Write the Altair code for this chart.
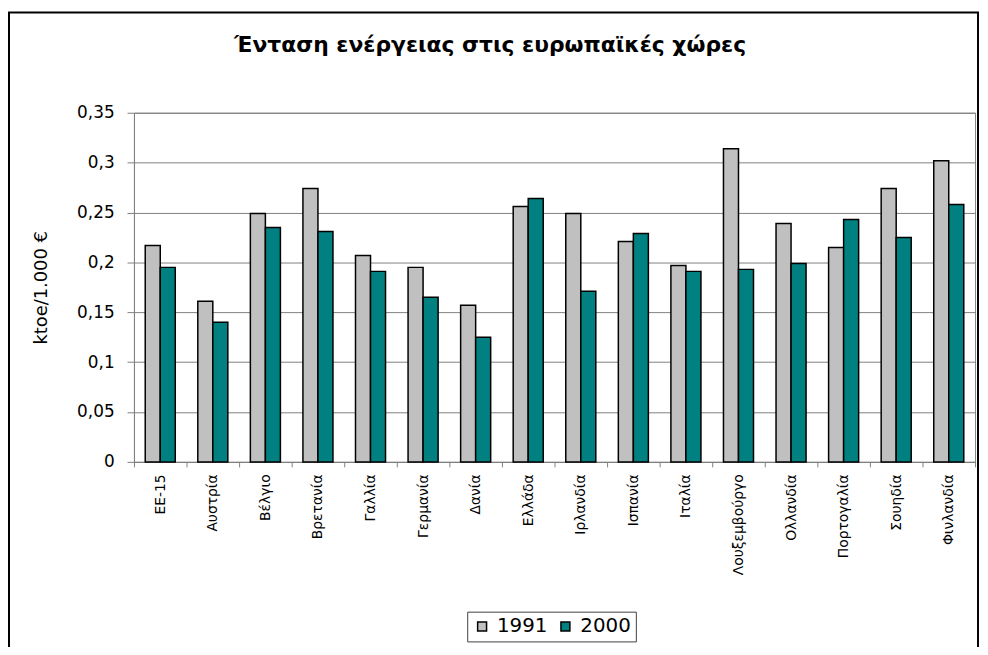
import altair as alt
import pandas as pd

countries = ["ΕΕ-15", "Αυστρία", "Βέλγιο", "Βρετανία", "Γαλλία", "Γερμανία", "Δανία",
             "Ελλάδα", "Ιρλανδία", "Ισπανία", "Ιταλία", "Λουξεμβούργο", "Ολλανδία",
             "Πορτογαλία", "Σουηδία", "Φινλανδία"]
v1991 = [0.217, 0.161, 0.249, 0.274, 0.207, 0.195, 0.157, 0.256, 0.249, 0.221,
         0.197, 0.314, 0.239, 0.215, 0.274, 0.302]
v2000 = [0.195, 0.140, 0.235, 0.231, 0.191, 0.165, 0.125, 0.264, 0.171, 0.229,
         0.191, 0.193, 0.199, 0.243, 0.225, 0.258]
years = ["1991", "2000"]
colors = ["#C0C0C0", "#008080"]
y_ticks = [0, 0.05, 0.1, 0.15, 0.2, 0.25, 0.3, 0.35]

rows = []
for c, a, b in zip(countries, v1991, v2000):
    rows.append({"country": c, "year": years[0], "value": a})
    rows.append({"country": c, "year": years[1], "value": b})
df = pd.DataFrame(rows)

FONT = "DejaVu Sans"

frame = alt.Chart(alt.Data(values=[{"k": 1}])).mark_rect(
    fillOpacity=0, stroke="black", strokeWidth=2
).encode(
    x=alt.value(-126), x2=alt.value(851), y=alt.value(-101), y2=alt.value(600)
)

bars = alt.Chart(df).mark_bar(stroke="black", strokeWidth=1.5).encode(
    x=alt.X("country:N", sort=countries,
            scale=alt.Scale(paddingInner=0, paddingOuter=0),
            axis=alt.Axis(title=None, labelAngle=-90, tickBand="extent",
                          tickSize=5, labelPadding=7, labelFontSize=14,
                          labelFont=FONT, labelColor="black",
                          domainColor="#808080", tickColor="#808080")),
    xOffset=alt.XOffset("year:N", sort=years,
                        scale=alt.Scale(paddingInner=0, paddingOuter=0.75)),
    y=alt.Y("value:Q", scale=alt.Scale(domain=[0, 0.35], nice=False),
            axis=alt.Axis(title="ktoe/1.000 €", values=y_ticks,
                          labelExpr="replace(format(datum.value, '.2~f'), '.', ',')",
                          labelFontSize=17, labelFont=FONT, labelColor="black",
                          tickSize=7, labelPadding=13,
                          grid=True, gridColor="#808080", gridWidth=1,
                          domainColor="#808080", tickColor="#808080",
                          titleFont=FONT, titleFontSize=18, titleFontWeight="normal",
                          titleColor="black", titleAngle=270, titleX=-93, titleY=176,
                          titleAlign="center", titleBaseline="middle")),
    color=alt.Color("year:N",
                    scale=alt.Scale(domain=years, range=colors),
                    legend=alt.Legend(title=None, orient="none", direction="horizontal",
                                      legendX=336, legendY=503,
                                      symbolType="square", symbolSize=81,
                                      symbolStrokeColor="black", symbolStrokeWidth=1.5,
                                      symbolOpacity=1,
                                      labelFont=FONT, labelFontSize=20, labelColor="black",
                                      columnPadding=8, labelOffset=5,
                                      strokeColor="#404040", padding=5,
                                      fillColor="white"))
)

chart = alt.layer(frame, bars).properties(
    width=848,
    height=352,
    autosize=alt.AutoSizeParams(type="none"),
    padding={"left": 127, "top": 103, "right": 5, "bottom": 184},
    title=alt.TitleParams("Ένταση ενέργειας στις ευρωπαϊκές χώρες",
                          font=FONT, fontSize=22, fontWeight="bold", color="black",
                          anchor="middle", frame="group", dx=-65,
                          baseline="alphabetic", offset=-63),
).configure_view(stroke="#808080", strokeWidth=1)

chart.save("out.html", embed_options={"renderer": "svg", "actions": False})
